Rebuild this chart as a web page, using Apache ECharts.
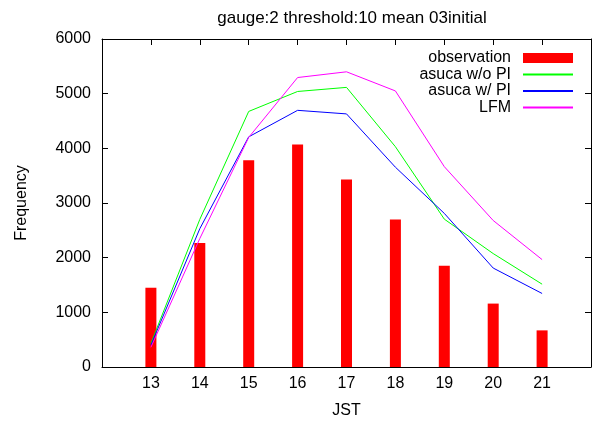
<!DOCTYPE html>
<html>
<head>
<meta charset="utf-8">
<script src="https://cdn.jsdelivr.net/npm/echarts@6/dist/echarts.min.js"></script>
<style>
html,body{margin:0;padding:0;background:#fff;}
#chart{width:593px;height:421px;}
</style>
</head>
<body>
<div id="chart"></div>
<script>
var hours = [13, 14, 15, 16, 17, 18, 19, 20, 21];
var observation = [1450, 2270, 3780, 4070, 3430, 2700, 1850, 1160, 670];
var asucaWoPI = [430, 2700, 4675, 5040, 5115, 4030, 2705, 2075, 1515];
var asucaWPI = [400, 2530, 4210, 4695, 4630, 3655, 2810, 1810, 1345];
var lfm = [360, 2350, 4200, 5295, 5400, 5050, 3665, 2680, 1965];
var yTicks = [0, 1000, 2000, 3000, 4000, 5000, 6000];

function pairs(vals){ return hours.map(function(h,i){ return [h, vals[i]]; }); }

var font = 'Liberation Sans, Arial, sans-serif';
var chart = echarts.init(document.getElementById('chart'), null, {renderer:'canvas'});
var xCommon = {
  type: 'value', min: 12, max: 22, interval: 1,
  splitLine: {show: false},
  axisLine: {show: true, onZero: false, lineStyle: {color: '#000', width: 1}},
  axisTick: {show: true, inside: true, length: 6, lineStyle: {color: '#000'}}
};
var yCommon = {
  type: 'value', min: yTicks[0], max: yTicks[yTicks.length-1], interval: 1000,
  splitLine: {show: false},
  axisLine: {show: true, lineStyle: {color: '#000', width: 1}},
  axisTick: {show: true, inside: true, length: 6, lineStyle: {color: '#000'}}
};
chart.setOption({
  animation: false,
  backgroundColor: '#fff',
  textStyle: {fontFamily: font},
  title: {
    text: 'gauge:2 threshold:10 mean 03initial',
    left: 347, top: 5, textAlign: 'center',
    textStyle: {fontFamily: font, fontSize: 17, fontWeight: 'normal', color: '#000'}
  },
  grid: {left: 102, right: 2, top: 39, bottom: 54, containLabel: false, outerBoundsMode: 'none'},
  legend: {
    orient: 'vertical', align: 'right', right: 14, top: 45,
    itemWidth: 50, itemHeight: 10, itemGap: 0.5,
    textStyle: {fontFamily: font, fontSize: 16, color: '#000', lineHeight: 16, padding: [0, 7, 0, 0]},
    data: [
      {name: 'observation', icon: 'rect'},
      {name: 'asuca w/o PI', itemStyle: {opacity: 0}},
      {name: 'asuca w/ PI', itemStyle: {opacity: 0}},
      {name: 'LFM', itemStyle: {opacity: 0}}
    ]
  },
  xAxis: [
    Object.assign({}, xCommon, {
      position: 'bottom',
      name: 'JST', nameLocation: 'middle', nameGap: 36,
      nameTextStyle: {fontFamily: font, fontSize: 16, color: '#000'},
      axisLabel: {show: true, margin: 9, fontFamily: font, fontSize: 16, color: '#000',
        formatter: function(v){ return hours.indexOf(v) >= 0 ? String(v) : ''; }}
    }),
    Object.assign({}, xCommon, {position: 'top', axisLabel: {show: false}})
  ],
  yAxis: [
    Object.assign({}, yCommon, {
      position: 'left',
      name: 'Frequency', nameLocation: 'middle', nameGap: 72, nameRotate: 90,
      nameTextStyle: {fontFamily: font, fontSize: 16, color: '#000'},
      axisLabel: {show: true, margin: 11, fontFamily: font, fontSize: 16, color: '#000',
        formatter: function(v){ return String(v); }}
    }),
    Object.assign({}, yCommon, {position: 'right', axisLabel: {show: false}})
  ],
  series: [
    {name: 'observation', type: 'bar', xAxisIndex: 0, yAxisIndex: 0, data: pairs(observation),
      barWidth: 11, itemStyle: {color: '#ff0000'}},
    {name: 'asuca w/o PI', type: 'line', data: pairs(asucaWoPI), symbol: 'none',
      lineStyle: {color: '#00ff00', width: 1}, itemStyle: {color: '#00ff00'}},
    {name: 'asuca w/ PI', type: 'line', data: pairs(asucaWPI), symbol: 'none',
      lineStyle: {color: '#0000ff', width: 1}, itemStyle: {color: '#0000ff'}},
    {name: 'LFM', type: 'line', data: pairs(lfm), symbol: 'none',
      lineStyle: {color: '#ff00ff', width: 1}, itemStyle: {color: '#ff00ff'}}
  ]
});
</script>
</body>
</html>
